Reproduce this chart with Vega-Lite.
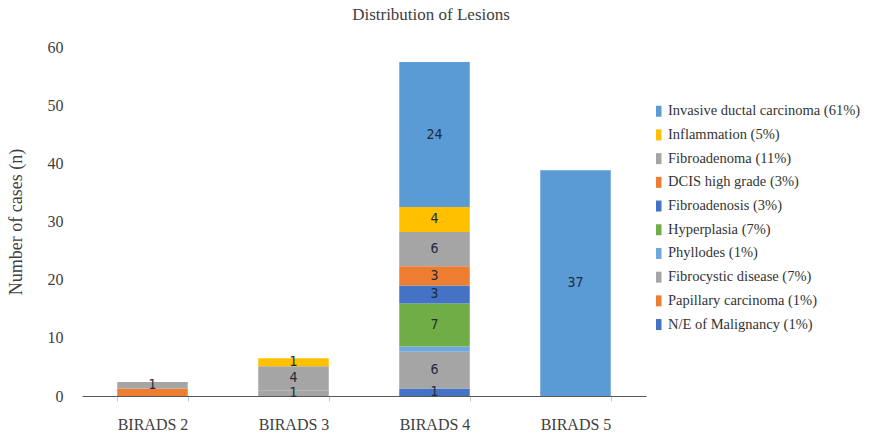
{
  "$schema": "https://vega.github.io/schema/vega-lite/v6.json",
  "autosize": "none",
  "width": 564,
  "height": 349,
  "padding": {"left": 82, "top": 47, "right": 223, "bottom": 40},
  "background": "white",
  "title": {
    "text": "Distribution of Lesions",
    "font": "Liberation Serif",
    "fontSize": 17,
    "fontWeight": "normal",
    "color": "#404040",
    "anchor": "middle",
    "dx": 67,
    "offset": 15
  },
  "config": {
    "view": {"stroke": null},
    "font": "Liberation Serif",
    "legend": {"labelFont": "Liberation Serif", "labelFontSize": 14.5},
    "axis": {"labelFont": "Liberation Serif", "titleFont": "Liberation Serif"}
  },
  "data": {
    "values": [
      {"birads": "BIRADS 2", "type": "Papillary carcinoma (1%)", "k": 2, "cases": 1.3, "label": ""},
      {"birads": "BIRADS 2", "type": "Fibroadenoma (11%)", "k": 8, "cases": 1.1, "label": "1"},
      {"birads": "BIRADS 3", "type": "Fibrocystic disease (7%)", "k": 3, "cases": 1.0, "label": "1"},
      {"birads": "BIRADS 3", "type": "Fibroadenoma (11%)", "k": 8, "cases": 4.1, "label": "4"},
      {"birads": "BIRADS 3", "type": "Inflammation (5%)", "k": 9, "cases": 1.4, "label": "1"},
      {"birads": "BIRADS 4", "type": "N/E of Malignancy (1%)", "k": 1, "cases": 1.3, "label": "1"},
      {"birads": "BIRADS 4", "type": "Fibrocystic disease (7%)", "k": 3, "cases": 6.3, "label": "6"},
      {"birads": "BIRADS 4", "type": "Phyllodes (1%)", "k": 4, "cases": 0.9, "label": ""},
      {"birads": "BIRADS 4", "type": "Hyperplasia (7%)", "k": 5, "cases": 7.4, "label": "7"},
      {"birads": "BIRADS 4", "type": "Fibroadenosis (3%)", "k": 6, "cases": 3.1, "label": "3"},
      {"birads": "BIRADS 4", "type": "DCIS high grade (3%)", "k": 7, "cases": 3.3, "label": "3"},
      {"birads": "BIRADS 4", "type": "Fibroadenoma (11%)", "k": 8, "cases": 5.9, "label": "6"},
      {"birads": "BIRADS 4", "type": "Inflammation (5%)", "k": 9, "cases": 4.3, "label": "4"},
      {"birads": "BIRADS 4", "type": "Invasive ductal carcinoma (61%)", "k": 10, "cases": 24.9, "label": "24"},
      {"birads": "BIRADS 5", "type": "Invasive ductal carcinoma (61%)", "k": 10, "cases": 38.8, "label": "37"}
    ]
  },
  "encoding": {
    "x": {
      "field": "birads",
      "type": "nominal",
      "scale": {"paddingInner": 0.5, "paddingOuter": 0.25},
      "axis": {
        "title": null,
        "labelAngle": 0,
        "labelFont": "Liberation Serif",
        "labelFontSize": 16,
        "labelColor": "#404040",
        "labelPadding": 15,
        "domainColor": "#595959",
        "domainWidth": 1.2,
        "ticks": true,
        "tickBand": "extent",
        "tickColor": "#c8c8c8",
        "tickSize": 5
      }
    }
  },
  "layer": [
    {
      "mark": {"type": "bar"},
      "encoding": {
        "y": {
          "field": "cases",
          "type": "quantitative",
          "stack": "zero",
          "scale": {"domain": [0, 60], "nice": false},
          "axis": {
            "title": "Number of cases (n)",
            "titleFont": "Liberation Serif",
            "titleFontSize": 18,
            "titleFontWeight": "normal",
            "titleColor": "#404040",
            "titlePadding": 22,
            "values": [0, 10, 20, 30, 40, 50, 60],
            "labelFont": "Liberation Serif",
            "labelFontSize": 16,
            "labelColor": "#404040",
            "labelPadding": 19,
            "domain": false,
            "ticks": false,
            "grid": false
          }
        },
        "color": {
          "field": "type",
          "type": "nominal",
          "scale": {
            "domain": [
              "Invasive ductal carcinoma (61%)",
              "Inflammation (5%)",
              "Fibroadenoma (11%)",
              "DCIS high grade (3%)",
              "Fibroadenosis (3%)",
              "Hyperplasia (7%)",
              "Phyllodes (1%)",
              "Fibrocystic disease (7%)",
              "Papillary carcinoma (1%)",
              "N/E of Malignancy (1%)"
            ],
            "range": ["#5B9BD5", "#FFC000", "#A5A5A5", "#ED7D31", "#4472C4", "#70AD47", "#6FA8DC", "#A5A5A5", "#ED7D31", "#4472C4"]
          },
          "legend": {
            "title": null,
            "orient": "none",
            "legendX": 569.5,
            "legendY": 57,
            "padding": 0,
            "symbolType": "M-0.5,-1h1v2h-1z",
            "symbolSize": 121,
            "symbolStrokeWidth": 0,
            "labelFont": "Liberation Serif",
            "labelFontSize": 14.5,
            "labelColor": "#333333",
            "labelOffset": 2,
            "labelLimit": 300,
            "rowPadding": 8.7
          }
        },
        "order": {"field": "k", "type": "quantitative", "sort": "ascending"}
      }
    },
    {
      "transform": [
        {"stack": "cases", "groupby": ["birads"], "sort": [{"field": "k", "order": "ascending"}], "as": ["y0", "y1"]},
        {"calculate": "(datum.y0 + datum.y1) / 2", "as": "mid"},
        {"filter": "datum.label !== ''"}
      ],
      "mark": {
        "type": "text",
        "font": "Liberation Sans Narrow, DejaVu Sans Condensed, sans-serif",
        "fontSize": 14,
        "color": "#1f2a3a",
        "baseline": "middle",
        "align": "center"
      },
      "encoding": {
        "y": {"field": "mid", "type": "quantitative"},
        "text": {"field": "label"}
      }
    }
  ]
}
